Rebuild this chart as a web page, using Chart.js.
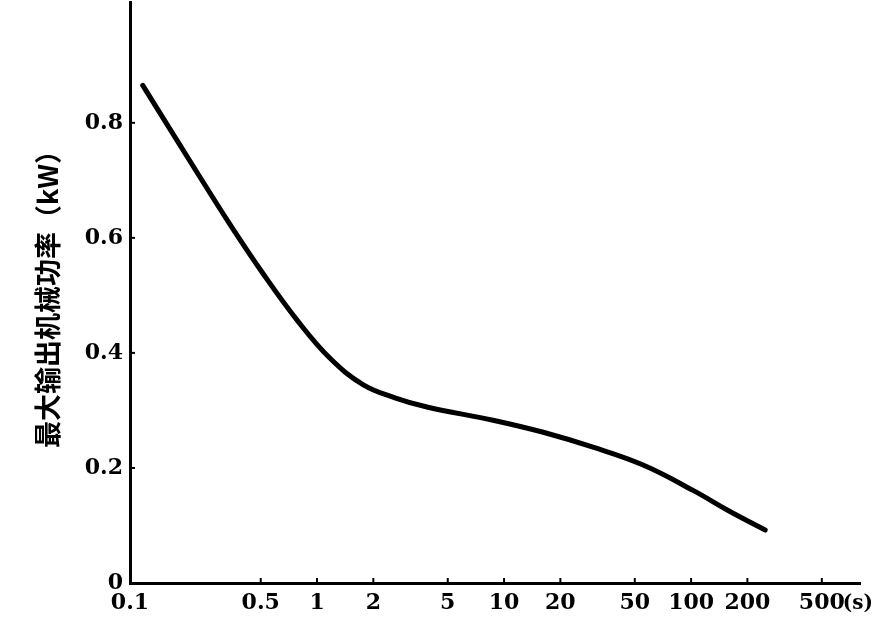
<!DOCTYPE html>
<html>
<head>
<meta charset="utf-8">
<script src="https://cdn.jsdelivr.net/npm/chart.js@4.4.0/dist/chart.umd.min.js"></script>
<style>
  html, body { margin: 0; padding: 0; background: #fff; }
  #wrap { width: 875px; height: 619px; }
</style>
</head>
<body>
<div id="wrap"><canvas id="chart"></canvas></div>
<script>
// time (s), log scale
var durations = [0.117, 0.228, 0.343, 0.514, 0.782, 1.17, 1.76, 2.61, 3.87, 8.73, 16.2, 29.9, 55.4, 102.5, 156, 249];
// max output mechanical power (kW)
var power = [0.865, 0.714, 0.623, 0.538, 0.457, 0.391, 0.345, 0.322, 0.306, 0.283, 0.262, 0.236, 0.205, 0.161, 0.127, 0.092];
var xTicks = [0.1, 0.5, 1, 2, 5, 10, 20, 50, 100, 200, 500];
var yTicks = [0, 0.2, 0.4, 0.6, 0.8];

var points = [];
for (var i = 0; i < durations.length; i++) {
  points.push({x: durations[i], y: power[i]});
}

var tickFont = {family: "'DejaVu Serif', serif", size: 22, weight: 'bold'};

// little tick marks pointing into the plot, plus the "(s)" unit after 500
var axisExtras = {
  id: 'axisExtras',
  afterDraw: function (chart) {
    var ctx = chart.ctx;
    var xs = chart.scales.x, ys = chart.scales.y;
    var area = chart.chartArea;
    ctx.save();
    ctx.strokeStyle = '#000';
    ctx.lineWidth = 2;
    xTicks.forEach(function (v) {
      if (v === 0.1) return;
      var px = xs.getPixelForValue(v);
      ctx.beginPath();
      ctx.moveTo(px, area.bottom);
      ctx.lineTo(px, area.bottom - 5);
      ctx.stroke();
    });
    yTicks.forEach(function (v) {
      if (v === 0) return;
      var py = ys.getPixelForValue(v);
      ctx.beginPath();
      ctx.moveTo(area.left, py);
      ctx.lineTo(area.left + 5, py);
      ctx.stroke();
    });
    ctx.fillStyle = '#000';
    ctx.font = "bold 20px 'DejaVu Serif', serif";
    ctx.textBaseline = 'middle';
    ctx.textAlign = 'left';
    ctx.fillText('(s)', xs.getPixelForValue(500) + 21, area.bottom + 21);
    ctx.restore();
  }
};

new Chart(document.getElementById('chart'), {
  type: 'line',
  data: {
    datasets: [{
      data: points,
      borderColor: '#000',
      borderWidth: 5,
      pointRadius: 0,
      fill: false,
      tension: 0.4,
      borderCapStyle: 'round'
    }]
  },
  options: {
    responsive: true,
    maintainAspectRatio: false,
    animation: false,
    layout: {padding: {left: 32, right: 15, top: 2, bottom: 0}},
    plugins: {legend: {display: false}, tooltip: {enabled: false}},
    scales: {
      x: {
        type: 'logarithmic',
        min: 0.1,
        max: 800,
        afterBuildTicks: function (scale) {
          scale.ticks = xTicks.map(function (v) { return {value: v}; });
        },
        afterFit: function (scale) { scale.height = 36; },
        ticks: {
          color: '#000',
          font: tickFont,
          padding: 7,
          maxRotation: 0,
          autoSkip: false,
          callback: function (v) { return String(v); }
        },
        grid: {display: true, drawOnChartArea: false, drawTicks: false},
        border: {color: '#000', width: 3}
      },
      y: {
        type: 'linear',
        min: 0,
        max: 1.01,
        afterBuildTicks: function (scale) {
          scale.ticks = yTicks.map(function (v) { return {value: v}; });
        },
        afterFit: function (scale) {
          scale.width = 98;
          scale.paddingTop = 0;
          scale.paddingBottom = 0;
        },
        ticks: {
          color: '#000',
          font: tickFont,
          padding: 7,
          callback: function (v) { return String(v); }
        },
        grid: {display: true, drawOnChartArea: false, drawTicks: false},
        border: {color: '#000', width: 3},
        title: {
          display: true,
          text: '最大输出机械功率（kW）',
          color: '#000',
          font: {family: "'Noto Sans CJK SC', sans-serif", size: 27, weight: 'bold'},
          padding: 0
        }
      }
    }
  },
  plugins: [axisExtras]
});
</script>
</body>
</html>
